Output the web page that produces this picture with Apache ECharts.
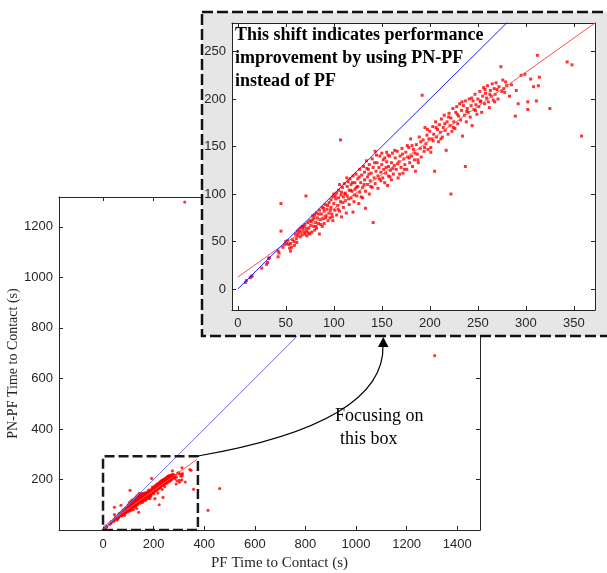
<!DOCTYPE html>
<html>
<head>
<meta charset="utf-8">
<script src="https://cdn.jsdelivr.net/npm/echarts@6.0.0/dist/echarts.min.js"></script>
<style>
  html, body { margin: 0; padding: 0; background: #fff; }
  #chart { width: 607px; height: 573px; }
</style>
</head>
<body>
<div id="chart"></div>
<script>
// PF vs PN-PF time to contact (s)
const insetPoints = [
  [8,7],[9,9],[13,12],[14,13],[15,14],[25,22],[30,26],[31,28],[32,32],[33,33],[42,34],[43,38],[42,40],
  [45,90],[45,61],[47,44],[49,47],[50,50],[51,48],
  [52,51],[53,47],[54,43],[55,40],[55,48],[56,44],[57,52],[59,46],[60,58],[61,53],[62,61],[62,56],[63,58],
  [64,63],[65,55],[66,60],[66,65],[67,57],[68,63],[69,66],[70,58],[70,68],[71,98],[72,56],[72,61],[73,70],
  [74,64],[75,58],[75,72],[76,67],[77,60],[78,73],[78,77],[79,66],[80,62],[80,78],[81,70],[82,64],[82,80],
  [83,75],[84,69],[85,58],[85,83],[86,73],[87,79],[88,66],[88,86],[89,74],[90,82],[90,69],[91,89],[92,77],
  [93,84],[94,72],[95,91],[95,80],[96,75],[97,94],[97,86],[98,79],[99,97],[99,72],
  [100,90],[100,100],[101,83],[102,95],[103,101],[103,78],[104,88],[105,104],[105,96],[106,82],[106,110],
  [107,157],[107,92],[108,76],[108,102],[109,107],[110,86],[110,97],[111,111],[112,93],[112,101],[113,80],
  [114,108],[114,98],[115,113],[116,89],[116,104],[117,116],[118,96],[118,110],[119,103],[120,119],[120,81],
  [121,92],[122,112],[122,105],[123,121],[124,98],[125,116],[125,108],[126,90],[127,126],[127,102],[128,112],
  [129,120],[130,96],[130,107],[131,129],[132,115],[132,123],[133,85],[133,103],[134,135],[135,118],[135,110],
  [136,126],[137,100],[137,131],[138,114],[139,122],[140,107],[140,137],[141,70],[141,128],[142,117],
  [143,145],[143,111],[144,124],[145,133],[146,106],[146,119],[147,128],[148,140],[149,114],[149,123],
  [150,131],[150,143],[151,117],[152,126],[153,138],[153,112],[154,122],[155,134],[155,144],[156,109],
  [157,129],[157,119],[158,140],[159,125],[160,133],[160,115],[161,143],[162,121],[163,130],[164,138],
  [165,126],[166,145],[167,117],[168,134],[169,140],[170,128],[171,148],[172,122],[173,137],[174,131],
  [175,144],[176,126],[177,139],[178,149],[179,133],[180,158],[181,140],[182,129],[183,147],[184,136],
  [185,124],[186,152],[187,142],[188,133],[189,160],[190,148],[191,139],[192,204],[193,157],[194,145],
  [195,170],[196,153],[197,162],[198,147],[199,158],
  [200,166],[201,144],[201,149],[202,158],[203,171],[204,163],[205,124],[206,176],[207,160],[208,168],
  [209,155],[210,173],[211,165],[212,179],[213,160],[214,170],[215,183],[216,167],[217,146],[218,176],
  [219,163],[220,185],[221,172],[222,100],[222,180],[223,166],[224,190],[225,176],[226,169],[227,186],
  [228,192],[229,174],[230,182],[231,195],[232,178],[233,188],[234,161],[235,193],[236,183],[237,129],
  [237,198],[238,176],[239,190],[240,186],[241,200],[242,181],[243,193],[244,172],[245,198],[246,189],
  [247,205],[248,194],[249,184],
  [250,200],[251,192],[252,208],[253,198],[254,186],[255,203],[256,212],[257,195],[258,206],[259,201],
  [260,214],[261,197],[262,191],[263,209],[264,203],[265,216],[266,199],[267,211],[268,205],[269,217],
  [270,210],[271,200],[272,213],[274,234],[275,208],[276,220],[277,211],[278,207],[279,218],[280,214],
  [58.5,50],[61.5,49],[64.5,60],[67.5,66],[69.5,60],[71.5,64],[73.5,59],[76.5,71],[79.5,75],[81.5,66],
  [84.5,79],[86.5,68],[89.5,85],[91.5,75],[93.5,88],[96.5,83],[98.5,76],[101.5,98],[104.5,84],[107.5,99],
  [109.5,91],[111.5,100],[113.5,117],[115.5,95],[117.5,104],[119.5,112],[121.5,99],[123.5,107],[126.5,118],
  [128.5,97],[131.5,110],[134.5,127],[136.5,121],[138.5,108],[142.5,133],[144.5,141],[147.5,116],
  [151.5,136],[154.5,128],[156.5,141],[158.5,118],[161.5,127],[163.5,146],[166.5,132],[168.5,121],
  [171.5,142],[173.5,126],[176.5,151],[178.5,138],[181.5,151],[184.5,143],[187.5,136],[190.5,155],
  [194.5,149],[197.5,168],[203.5,156],[206.5,170],[211.5,158],[215.5,174],[219.5,181],[224.5,170],
  [228.5,184],[233.5,197],[238.5,187],[243.5,201],[247.5,188],[252.5,197],[257.5,210],[262.5,205],[267.5,197],
  [283,203],[285,215],[289,182],[290,209],[292,195],[295,225],[299,226],[302,197],[302,189],[305,221],
  [308,213],[311,198],[312,246],[313,214],[314,223],[325,190],[343,239],[348,236],[358,161]
]
const outlierPoints = [[415,78],[461,164],[1311,690],[323,1298]]
const identityLine = [[0,0],[1300,1300]]
const fitLine = [[0,12.6],[372,280]]
const zoomBox = [[0,0],[375,0],[375,292],[0,292],[0,0]]
const shiftArrow = [[266,271],[266,209]]

const mainXTicks = [0,200,400,600,800,1000,1200,1400]
const mainYTicks = [200,400,600,800,1000,1200]
const insetXTicks = [0,50,100,150,200,250,300,350]
const insetYTicks = [0,50,100,150,200,250]

const axisColor = '#262626'
const labelFont = {
  color: axisColor, fontFamily: 'Liberation Sans', fontSize: 13,
  formatter: function (v) { return String(v) }
}

function frameAxis(extra) {
  return Object.assign({
    type: 'value',
    splitLine: { show: false },
    axisLine: { show: true, onZero: false, lineStyle: { color: axisColor, width: 1 } },
    axisTick: { show: true, inside: true, length: 4, lineStyle: { color: axisColor } },
    axisLabel: { show: false }
  }, extra)
}

function ticks(values) {
  return { show: true, inside: true, length: 4, customValues: values, lineStyle: { color: axisColor } }
}

let myChart = echarts.init(document.getElementById('chart'), null, { renderer: 'canvas' })

var option = {
  animation: false,
  backgroundColor: '#ffffff',
  grid: [
    { left: 59, top: 197, right: 127, bottom: 43, containLabel: false, outerBoundsMode: 'none' },
    {
      left: 232, top: 23, right: 12, bottom: 263, containLabel: false, outerBoundsMode: 'none',
      show: true, backgroundColor: '#fff', borderWidth: 0, zlevel: 2
    }
  ],
  xAxis: [
    frameAxis({
      gridIndex: 0, position: 'bottom', min: -174, max: 1490,
      axisTick: ticks(mainXTicks),
      axisLabel: Object.assign({ show: true, margin: 8, customValues: mainXTicks }, labelFont),
      name: 'PF Time to Contact (s)', nameLocation: 'middle', nameGap: 23,
      nameTextStyle: { fontFamily: 'Liberation Serif', fontSize: 15, color: axisColor, padding: [0, 0, 0, 20] }
    }),
    frameAxis({ gridIndex: 0, position: 'top', min: -174, max: 1490, axisTick: ticks(mainXTicks) }),
    frameAxis({
      gridIndex: 1, position: 'bottom', min: -6, max: 372, zlevel: 2,
      axisTick: ticks(insetXTicks),
      axisLabel: Object.assign({ show: true, margin: 7, customValues: insetXTicks }, labelFont)
    }),
    frameAxis({ gridIndex: 1, position: 'top', min: -6, max: 372, zlevel: 2, axisTick: ticks(insetXTicks) })
  ],
  yAxis: [
    frameAxis({
      gridIndex: 0, position: 'left', min: 0, max: 1318,
      axisTick: ticks(mainYTicks),
      axisLabel: Object.assign({ show: true, margin: 6, customValues: mainYTicks }, labelFont),
      name: 'PN-PF Time to Contact (s)', nameLocation: 'middle', nameGap: 39, nameMoveOverlap: false,
      nameTextStyle: { fontFamily: 'Liberation Serif', fontSize: 14, color: axisColor }
    }),
    frameAxis({ gridIndex: 0, position: 'right', min: 0, max: 1318, axisTick: ticks(mainYTicks) }),
    frameAxis({
      gridIndex: 1, position: 'left', min: -22, max: 280, zlevel: 2,
      axisTick: ticks(insetYTicks),
      axisLabel: Object.assign({ show: true, margin: 6, customValues: insetYTicks }, labelFont)
    }),
    frameAxis({ gridIndex: 1, position: 'right', min: -22, max: 280, zlevel: 2, axisTick: ticks(insetYTicks) })
  ],
  series: [
    // main panel
    {
      type: 'scatter', xAxisIndex: 0, yAxisIndex: 0,
      data: insetPoints.concat(outlierPoints),
      symbol: 'circle', symbolSize: 3.2,
      itemStyle: { color: '#ff0000' }
    },
    {
      type: 'line', xAxisIndex: 0, yAxisIndex: 0, data: fitLine,
      showSymbol: false, lineStyle: { color: '#ff5555', width: 1 }
    },
    {
      type: 'line', xAxisIndex: 0, yAxisIndex: 0, data: identityLine,
      showSymbol: false, lineStyle: { color: '#7070ff', width: 1 }
    },
    {
      type: 'line', xAxisIndex: 0, yAxisIndex: 0, data: zoomBox,
      showSymbol: false, z: 5,
      lineStyle: { color: '#1a1a1a', width: 2.5, type: [10, 4] }
    },
    // zoomed-in panel
    {
      type: 'scatter', xAxisIndex: 2, yAxisIndex: 2, zlevel: 2,
      data: insetPoints,
      symbol: 'rect', symbolSize: 3,
      itemStyle: { color: '#ff0000' }
    },
    {
      type: 'line', xAxisIndex: 2, yAxisIndex: 2, zlevel: 2, data: fitLine,
      showSymbol: false, lineStyle: { color: '#ff5050', width: 1 }
    },
    {
      type: 'line', xAxisIndex: 2, yAxisIndex: 2, zlevel: 2, data: identityLine,
      showSymbol: false, lineStyle: { color: '#2020ff', width: 1 },
      markLine: {
        silent: true,
        symbol: ['none', 'triangle'],
        symbolSize: [12, 9],
        label: { show: false },
        lineStyle: { color: '#000', width: 1, type: [2, 2] },
        data: [[{ coord: shiftArrow[0] }, { coord: shiftArrow[1] }]]
      }
    }
  ],
  graphic: {
    elements: [
      {
        type: 'rect', zlevel: 1, z: 0, silent: true,
        shape: { x: 202, y: 12, width: 440, height: 324 },
        style: { fill: '#e6e6e6', stroke: '#111', lineWidth: 2.5, lineDash: [11, 4] }
      },
      {
        type: 'text', zlevel: 3, left: 235, top: 24, silent: true,
        style: {
          text: 'This shift indicates performance\nimprovement by using PN-PF\ninstead of PF',
          font: 'bold 18px "Liberation Serif"', fill: '#000', lineHeight: 23
        }
      },
      {
        type: 'bezierCurve', zlevel: 0, z: 50, silent: true,
        shape: { x1: 198, y1: 456, cpx1: 290, cpy1: 440, cpx2: 385, cpy2: 410, x2: 383, y2: 345 },
        style: { stroke: '#000', lineWidth: 1.2, fill: null }
      },
      {
        type: 'polygon', zlevel: 0, z: 50, silent: true,
        shape: { points: [[378, 347], [388.5, 347], [383.3, 337]] },
        style: { fill: '#000' }
      },
      {
        type: 'text', zlevel: 0, z: 50, left: 335, top: 407, silent: true,
        style: { text: 'Focusing on', font: '18px "Liberation Serif"', fill: '#000' }
      },
      {
        type: 'text', zlevel: 0, z: 50, left: 340, top: 430, silent: true,
        style: { text: 'this box', font: '18px "Liberation Serif"', fill: '#000' }
      }
    ]
  }
}

myChart.setOption(option)
</script>
</body>
</html>
